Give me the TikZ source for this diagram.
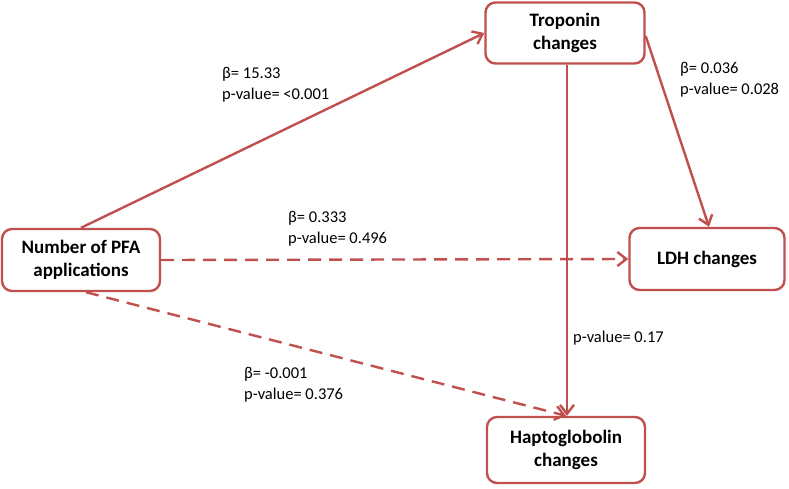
\documentclass[tikz,border=0pt]{standalone}
\usepackage{fontspec}
\setmainfont{Carlito}
\usetikzlibrary{arrows.meta}
\definecolor{boxred}{RGB}{192,80,77}
\begin{document}
\begin{tikzpicture}[x=1pt,y=-1pt,
  box/.style={draw=boxred, line width=2.4pt, rounded corners=10pt, fill=white,
    align=center, font=\fontsize{19}{23}\selectfont\bfseries, inner sep=0pt},
  conn/.style={draw=boxred, line width=2.4pt, -{Straight Barb[length=9pt,width=14pt,line width=2.4pt]}},
  dash conn/.style={conn, dash pattern=on 13pt off 8pt},
  lab/.style={anchor=base west, align=left, inner sep=0pt, font=\fontsize{16.5}{21}\selectfont}]
\useasboundingbox (0,0) rectangle (789,488);
\node[box, minimum width=158pt, minimum height=62pt] (pfa) at (81,260) {Number of PFA\\applications};
\node[box, minimum width=159pt, minimum height=61pt] (tro) at (565,33) {Troponin\\changes};
\node[box, minimum width=155pt, minimum height=62pt] (ldh) at (707,259) {LDH changes};
\node[box, minimum width=158pt, minimum height=66pt] (hap) at (566,450) {Haptoglobolin\\changes};
\draw[conn] (pfa.north) -- (tro.west);
\draw[conn] ([xshift=2pt]tro.south) -- ([xshift=1pt]hap.north);
\draw[conn] ([yshift=-3pt]tro.east) -- ([xshift=2pt]ldh.north);
\draw[dash conn] (pfa.east) -- (ldh.west);
\draw[dash conn] ([xshift=5pt]pfa.south) -- (hap.north);
\node[lab] (l1) at (222,99) {β= 15.33\\p-value= <0.001};
\node[lab] (l2) at (680,94) {β= 0.036\\p-value= 0.028};
\node[lab] (l3) at (288,243) {β= 0.333\\p-value= 0.496};
\node[lab] (l4) at (573,342) {p-value= 0.17};
\node[lab] (l5) at (244,399) {β= -0.001\\p-value= 0.376};
\end{tikzpicture}
\end{document}
